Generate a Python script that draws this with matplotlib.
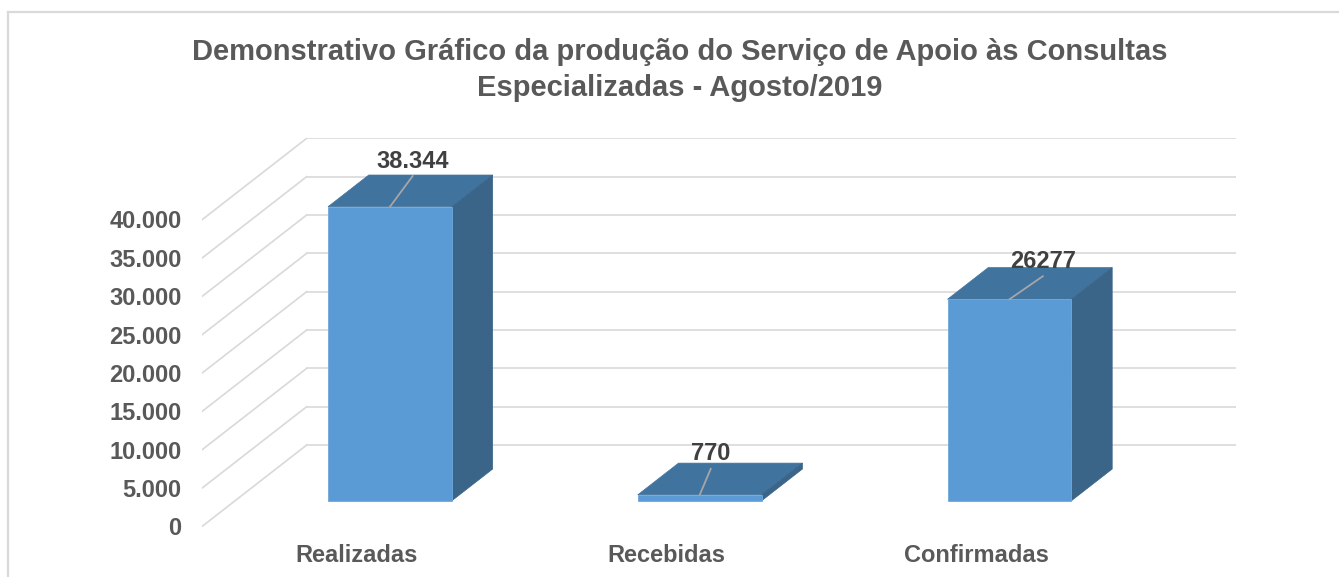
import matplotlib
matplotlib.use("Agg")
import matplotlib.pyplot as plt
from matplotlib.patches import Polygon
from matplotlib.lines import Line2D

# ---------------- data ----------------
categories = ["Realizadas", "Recebidas", "Confirmadas"]
values = [38344, 770, 26277]
value_labels = ["38.344", "770", "26277"]
y_ticks = [0, 5000, 10000, 15000, 20000, 25000, 30000, 35000, 40000]
y_tick_labels = ["0", "5.000", "10.000", "15.000", "20.000", "25.000", "30.000", "35.000", "40.000"]
title_lines = ["Demonstrativo Gráfico da produção do Serviço de Apoio às Consultas",
               "Especializadas - Agosto/2019"]

# ---------------- style / geometry ----------------
W, H = 1339, 577
AX_LEFT, AX_RIGHT = 201.7, 1236.0     # px
AX_BOTTOM, AX_TOP = 526.7, 138.3      # px from top
DEPTH_PX = (105.0, 81.7)              # oblique depth projection (px)
BAR_W = 0.4                           # in category units
D_FRONT, D_BACK = 0.318, 0.706        # bar depth range (fraction of full depth)
LABEL_OFF_PX = [(22.7, -47.7), (11.0, -43.0), (33.3, -40.0)]  # label placement offsets

FRONT = "#5B9BD5"
TOP = "#41739F"
SIDE = "#3A6488"
GRID = "#D9D9D9"
TXT = "#595959"
LBL = "#404040"
FONT = ["Liberation Sans", "DejaVu Sans"]
FS = 17

plt.rcParams["font.family"] = FONT

fig = plt.figure(figsize=(W / 100, H / 100), dpi=100)
ax = fig.add_axes([AX_LEFT / W, 1 - AX_BOTTOM / H,
                   (AX_RIGHT - AX_LEFT) / W, (AX_BOTTOM - AX_TOP) / H])
ax.set_axis_off()

n = len(categories)
px_per_cat = (AX_RIGHT - AX_LEFT - DEPTH_PX[0]) / n
px_per_val = (AX_BOTTOM - AX_TOP - DEPTH_PX[1]) / y_ticks[-1]
ddx = DEPTH_PX[0] / px_per_cat
ddy = DEPTH_PX[1] / px_per_val
ax.set_xlim(0, n + ddx)
ax.set_ylim(0, y_ticks[-1] + ddy)

# walls: side-wall diagonals + back-wall horizontals
for v in y_ticks:
    ax.add_line(Line2D([0, ddx], [v, v + ddy], color=GRID, lw=1.2, zorder=1))
    ax.add_line(Line2D([ddx, n + ddx], [v + ddy, v + ddy], color=GRID, lw=1.2, zorder=1))

# y tick labels on the front plane
for v, lab in zip(y_ticks, y_tick_labels):
    ax.annotate(lab, xy=(0, v), xycoords="data", xytext=(-20, -8.5),
                textcoords="offset pixels", ha="right", va="baseline",
                fontsize=FS, fontweight="bold", color=TXT, annotation_clip=False)

# category labels on the front plane
for i, c in enumerate(categories):
    ax.annotate(c, xy=(i + 0.5, 0), xycoords="data", xytext=(0, -35.6),
                textcoords="offset pixels", ha="center", va="baseline",
                fontsize=FS, fontweight="bold", color=TXT, annotation_clip=False)

# bars
fx = D_FRONT * ddx
fy = D_FRONT * ddy
bx = (D_BACK - D_FRONT) * ddx
by = (D_BACK - D_FRONT) * ddy
centers = [i + 0.5 + fx for i in range(n)]
ax.bar(centers, values, width=BAR_W, bottom=fy, color=FRONT,
       edgecolor="#6FA8DC", linewidth=0.6, zorder=5)
for cx, v, lab, off in zip(centers, values, value_labels, LABEL_OFF_PX):
    xl, xr = cx - BAR_W / 2, cx + BAR_W / 2
    yb, yt = fy, fy + v
    top = Polygon([(xl, yt), (xr, yt), (xr + bx, yt + by), (xl + bx, yt + by)],
                  closed=True, facecolor=TOP, edgecolor=TOP, lw=0.5, zorder=4)
    side = Polygon([(xr, yb), (xr, yt), (xr + bx, yt + by), (xr + bx, yb + by)],
                   closed=True, facecolor=SIDE, edgecolor=SIDE, lw=0.5, zorder=4)
    ax.add_patch(top)
    ax.add_patch(side)
    # label + leader line
    lx = cx + off[0] / px_per_cat
    ly = yt - off[1] / px_per_val
    lend = ly - 17 / px_per_val
    ax.add_line(Line2D([cx, lx], [yt, lend], color="#A6A6A6", lw=1.3, zorder=6))
    ax.annotate(lab, xy=(lx, ly), xycoords="data", xytext=(0, -8.5),
                textcoords="offset pixels", ha="center", va="baseline",
                fontsize=FS, fontweight="bold", color=LBL, zorder=7,
                annotation_clip=False)

# title
fig.text(680 / W, 1 - 60.5 / H, title_lines[0], ha="center", va="baseline",
         fontsize=21, fontweight="bold", color=TXT)
fig.text(680 / W, 1 - 96.5 / H, title_lines[1], ha="center", va="baseline",
         fontsize=21, fontweight="bold", color=TXT)

# chart frame (top + left visible)
fig.add_artist(Line2D([8 / W, 1.0], [1 - 12 / H, 1 - 12 / H],
                      transform=fig.transFigure, color=GRID, lw=1.6))
fig.add_artist(Line2D([8 / W, 8 / W], [1 - 12 / H, 0.0],
                      transform=fig.transFigure, color=GRID, lw=1.6))

fig.savefig("out.png", dpi=100)
